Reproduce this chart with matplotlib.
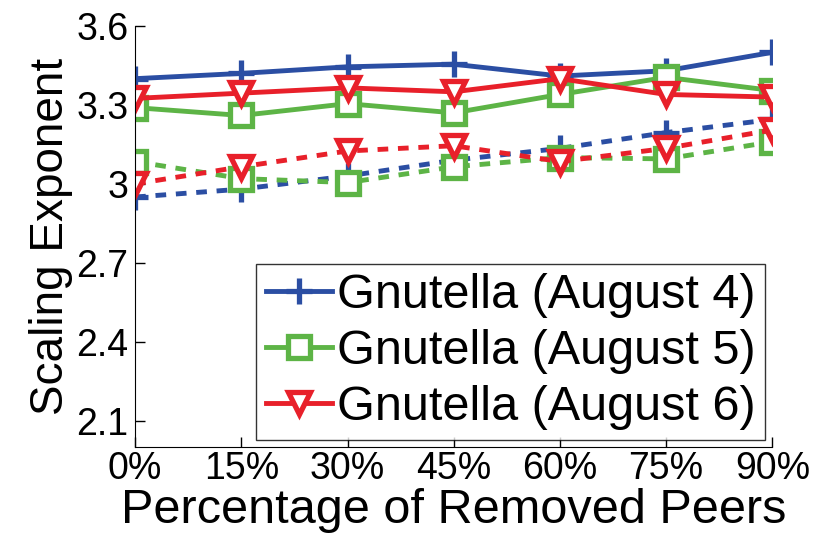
import matplotlib.pyplot as plt

plt.rcParams['font.family'] = ['Liberation Sans', 'DejaVu Sans']

removed = [0, 15, 30, 45, 60, 75, 90]
tick_labels = ['0%', '15%', '30%', '45%', '60%', '75%', '90%']

aug4_solid = [3.40, 3.42, 3.445, 3.455, 3.41, 3.43, 3.50]
aug5_solid = [3.29, 3.26, 3.305, 3.27, 3.34, 3.405, 3.355]
aug6_solid = [3.325, 3.345, 3.365, 3.35, 3.40, 3.34, 3.33]

aug4_dashed = [2.95, 2.98, 3.03, 3.09, 3.135, 3.195, 3.245]
aug5_dashed = [3.085, 3.02, 3.005, 3.065, 3.10, 3.095, 3.16]
aug6_dashed = [3.00, 3.065, 3.125, 3.145, 3.085, 3.135, 3.205]

blue = '#2b4ea3'
green = '#5db446'
red = '#e8202a'

fig, ax = plt.subplots(figsize=(8.19, 5.43), dpi=100)

styles = [
    (aug4_solid, aug4_dashed, blue, '+', 'Gnutella (August 4)'),
    (aug5_solid, aug5_dashed, green, 's', 'Gnutella (August 5)'),
    (aug6_solid, aug6_dashed, red, 'v', 'Gnutella (August 6)'),
]
for solid, dashed, c, m, lab in styles:
    face = c if m == '+' else 'white'
    size = 19 if m == '+' else 16
    ax.plot(removed, solid, color=c, lw=3.5, marker=m, ms=size,
            mew=3.8, mfc=face, mec=c, label=lab)
    ax.plot(removed, dashed, color=c, lw=3.5, ls=(0, (2.2, 2)), marker=m,
            ms=size, mew=3.8, mfc=face, mec=c)

ax.set_xlim(0, 90)
ax.set_ylim(2.0, 3.6)
ax.set_xticks(removed)
ax.set_xticklabels(tick_labels)
ax.set_yticks([2.1, 2.4, 2.7, 3.0, 3.3, 3.6])
ax.set_yticklabels(['2.1', '2.4', '2.7', '3', '3.3', '3.6'])
ax.tick_params(direction='in', length=7, width=1, labelsize=27, pad=5)
ax.tick_params(axis='x', pad=3)
for s in ['top', 'right']:
    ax.spines[s].set_visible(False)
ax.set_xlabel('Percentage of Removed Peers', fontsize=35, labelpad=1)
ax.set_ylabel('Scaling Exponent', fontsize=33, labelpad=2)

leg = ax.legend(loc='lower right', fontsize=35, frameon=True, fancybox=False,
                edgecolor='black', handlelength=1.35, handletextpad=0.1,
                borderpad=0.2, labelspacing=0.22, borderaxespad=0.15)
leg.get_frame().set_linewidth(1)

fig.subplots_adjust(left=0.165, right=0.943, top=0.952, bottom=0.177)
fig.savefig('out.png', dpi=100)
